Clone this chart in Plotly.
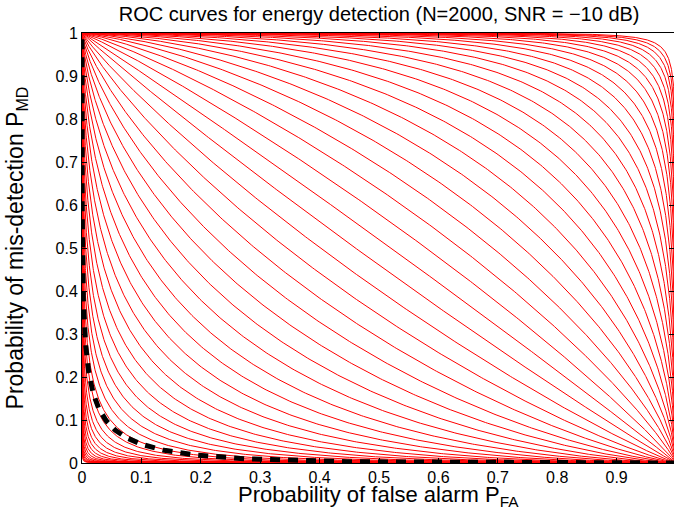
import math
import numpy as np
import plotly.graph_objects as go

# ---- data ----
title_text = "ROC curves for energy detection (N=2000, SNR = \u221210 dB)"
x_label = "Probability of false alarm P<sub>FA</sub>"
y_label = "Probability of mis-detection P<sub>MD</sub>"
x_ticks = [0, 0.1, 0.2, 0.3, 0.4, 0.5, 0.6, 0.7, 0.8, 0.9]
y_ticks = [0, 0.1, 0.2, 0.3, 0.4, 0.5, 0.6, 0.7, 0.8, 0.9, 1]
N_samples = 2000
snr_db = -10
red_d = [-3.8, -3.65, -3.5, -3.35, -3.2, -3.05, -2.9, -2.75, -2.6, -2.45,
         -2.3, -2.15, -2.0, -1.85, -1.7, -1.55, -1.4, -1.25, -1.1, -0.95,
         -0.8, -0.65, -0.5, -0.35, -0.2, -0.05, 0.1, 0.25, 0.4, 0.55,
         0.7, 0.85, 1.0, 1.15, 1.3, 1.45, 1.6, 1.75, 1.9, 2.05,
         2.2, 2.35, 2.5, 2.65, 2.8, 2.95, 3.1, 3.25, 3.4, 3.55,
         3.7, 3.85, 4.0, 4.15, 4.3, 4.45, 4.6, 4.75, 4.9, 5.05,
         5.2, 5.35]

_erf = np.vectorize(math.erf)


def Phi(z):
    return 0.5 * (1.0 + _erf(np.asarray(z) / math.sqrt(2.0)))


thr = np.concatenate([np.linspace(-14, -3, 200), np.linspace(-3, 3, 600), np.linspace(3, 14, 300)])

fig = go.Figure()
for d in red_d:
    pfa = 1.0 - Phi(thr)
    pmd = Phi(thr - d)
    fig.add_trace(go.Scatter(x=pfa, y=pmd, mode="lines",
                             line=dict(color="#ff0000", width=1), showlegend=False,
                             hoverinfo="skip"))

# energy detector, Gaussian approximation
s = 10 ** (snr_db / 10)
pfa_b = 1.0 - Phi(thr)
pmd_b = Phi((thr * math.sqrt(2 * N_samples) + N_samples - N_samples * (1 + s))
            / (math.sqrt(2 * N_samples) * (1 + s)))
fig.add_trace(go.Scatter(x=pfa_b, y=pmd_b, mode="lines",
                         line=dict(color="black", width=5, dash="10px,8px"),
                         showlegend=False, hoverinfo="skip"))

font_fam = "Liberation Sans, Arial, Helvetica, sans-serif"
axis_common = dict(ticks="inside", ticklen=5, tickcolor="black", showline=True,
                   linecolor="black", linewidth=1, mirror="ticks", showgrid=False,
                   zeroline=False, tickfont=dict(size=16, family=font_fam),
                   automargin=False)
fig.update_layout(
    width=674, height=512,
    margin=dict(l=82, r=0, t=33, b=49),
    paper_bgcolor="white", plot_bgcolor="white",
    font=dict(family=font_fam, color="black"),
    title=dict(text=title_text, x=0.5625, xanchor="center", y=0.972, yanchor="middle",
               font=dict(size=20, family=font_fam)),
    xaxis=dict(range=[0, 0.9966], tickvals=x_ticks, ticktext=[f"{v:g}" for v in x_ticks],
               **axis_common),
    yaxis=dict(range=[0, 1], tickvals=y_ticks, ticktext=[f"{v:g}" for v in y_ticks],
               **axis_common),
    annotations=[
        dict(text=x_label, xref="paper", yref="paper", x=0.5, y=-0.1125,
             xanchor="center", yanchor="bottom", showarrow=False, borderpad=0,
             font=dict(size=22, family=font_fam)),
        dict(text=y_label, xref="paper", yref="paper", x=-0.1386, y=0.5,
             xanchor="left", yanchor="middle", textangle=-90, showarrow=False,
             font=dict(size=23, family=font_fam)),
    ],
)

fig.write_html("out.html", config={"displayModeBar": False},
               post_script="document.body.style.margin='0px';document.body.style.overflow='hidden';")
